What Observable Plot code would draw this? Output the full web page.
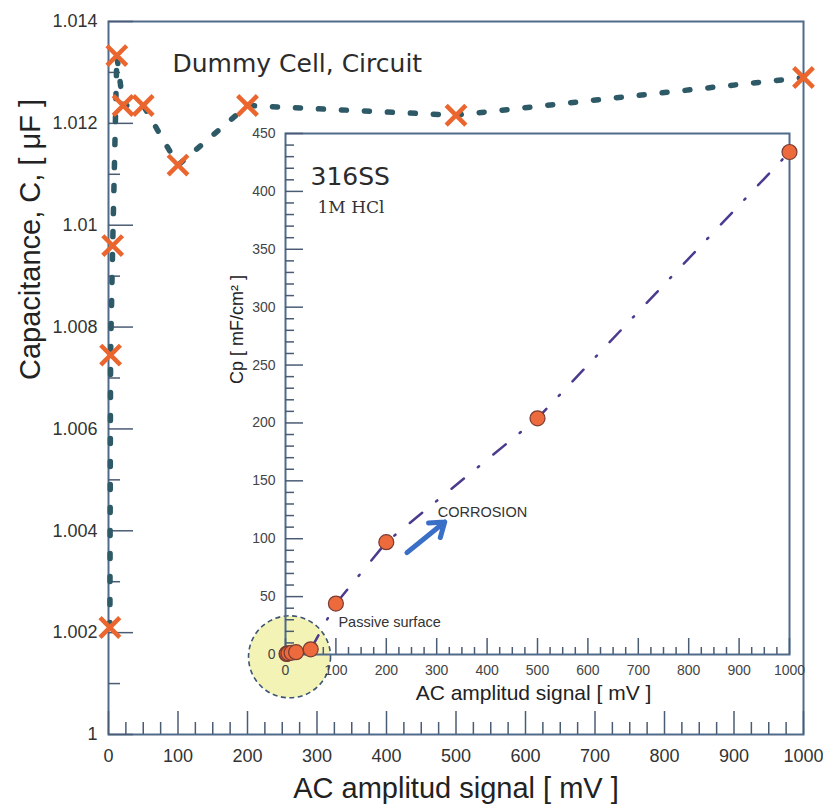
<!DOCTYPE html>
<html>
<head>
<meta charset="utf-8">
<script src="https://cdn.jsdelivr.net/npm/d3@7"></script>
<script src="https://cdn.jsdelivr.net/npm/@observablehq/plot@0.6"></script>
<style>
  html, body { margin: 0; padding: 0; background: #fff; }
  #chart { position: relative; width: 823px; height: 812px; overflow: hidden; }
  #chart svg { position: absolute; overflow: visible; }
</style>
</head>
<body>
<div id="chart"></div>
<script>
// ---- Main chart: dummy cell capacitance vs. AC amplitude ----
const amplitude = [2, 3, 6, 12, 21, 50, 100, 200, 500, 1000];            // mV
const capacitance = [1.0021, 1.00745, 1.0096, 1.01333, 1.01235, 1.01235,
                     1.01118, 1.01235, 1.01216, 1.0129];                  // µF
const xTicks = [0, 100, 200, 300, 400, 500, 600, 700, 800, 900, 1000];
const yTicks = [1, 1.002, 1.004, 1.006, 1.008, 1.01, 1.012, 1.014];
const yTickLabels = ["1", "1.002", "1.004", "1.006", "1.008", "1.01", "1.012", "1.014"];

// ---- Inset: 316SS in 1M HCl, Cp vs. AC amplitude ----
const insetAmplitude = [2, 3, 6, 12, 21, 50, 100, 200, 500, 1000];       // mV
const insetCp = [0.5, 0.8, 1, 1.5, 2, 4.5, 44, 97, 204, 434];             // mF/cm²
const insetXTicks = [0, 100, 200, 300, 400, 500, 600, 700, 800, 900, 1000];
const insetYTicks = [0, 50, 100, 150, 200, 250, 300, 350, 400, 450];

// Annotations (data units of the inset)
const passiveZone = [{x: 8, y: -2}];
const notes = [
  {x: 105, y: 28, label: "Passive surface", size: 14.5},
  {x: 302, y: 122.5, label: "CORROSION", size: 14.5}
];
const trendArrow = [{x1: 241, y1: 88, x2: 316, y2: 114.5}];

const frameColor = "#4f6a8a";
const tickColor = "#4a5c74";
const orange = "#ea662e";
const sans = "'Liberation Sans', Arial, sans-serif";
const plain = d => String(d);

const root = document.getElementById("chart");

// ---------- main plot ----------
const W = 823, H = 812;
const M = {top: 21, right: 20, bottom: 78, left: 108};
const plotW = W - M.left - M.right;
const plotH = H - M.top - M.bottom;

const mainData = amplitude.map((x, i) => ({x, y: capacitance[i]}));
const minorX = d3.range(25, 1000, 25).filter(v => v % 100 !== 0);
const minorY = yTicks.slice(0, -1).map(v => v + 0.001);

const main = Plot.plot({
  width: W, height: H,
  marginTop: M.top, marginRight: M.right, marginBottom: M.bottom, marginLeft: M.left,
  style: {fontFamily: sans, fontSize: "18px", color: "#333", background: "transparent", overflow: "visible"},
  x: {domain: [0, 1000], ticks: xTicks, tickSize: 0, tickPadding: 15, label: null, tickFormat: plain},
  y: {domain: [1, 1.014], ticks: yTicks, tickSize: 0, tickPadding: 11, label: null,
      tickFormat: d => yTickLabels[yTicks.findIndex(t => Math.abs(t - d) < 1e-9)]},
  marks: [
    Plot.frame({stroke: frameColor, strokeWidth: 2}),
    Plot.tickX(xTicks, {x: d => d, insetTop: plotH - 23, stroke: tickColor, strokeWidth: 1.5}),
    Plot.tickX(minorX, {x: d => d, insetTop: plotH - 12, stroke: tickColor, strokeWidth: 1.5}),
    Plot.tickY(yTicks, {y: d => d, insetRight: plotW - 25, stroke: tickColor, strokeWidth: 1.5}),
    Plot.tickY(minorY, {y: d => d, insetRight: plotW - 12, stroke: tickColor, strokeWidth: 1.5}),
    Plot.line(mainData, {x: "x", y: "y", stroke: "#2e5a68", strokeWidth: 5.5,
      strokeDasharray: "5,18", strokeLinecap: "round"}),
    Plot.dot(mainData, {x: "x", y: "y", symbol: "times", r: 9, stroke: orange, strokeWidth: 4.5}),
    Plot.text(["Dummy Cell, Circuit"], {text: d => d, frameAnchor: "top-left", dx: 64, dy: 33,
      textAnchor: "start", fontSize: 25, fontFamily: "'DejaVu Sans', sans-serif", fill: "#2b2b2b"}),
    Plot.text(["Capacitance, C, [ μF ]"], {text: d => d, frameAnchor: "left", rotate: -90,
      dx: -78, dy: 2, fontSize: 29, fill: "#222"}),
    Plot.text(["AC amplitud signal [ mV ]"], {text: d => d, frameAnchor: "bottom",
      dy: 63, fontSize: 29, fill: "#222"})
  ]
});
main.style.left = "0px";
main.style.top = "0px";
root.appendChild(main);

// ---------- inset plot ----------
const IL = 195, IT = 110, IW = 610, IH = 620;
const IM = {top: 23, right: 16, bottom: 76, left: 90};
const iPlotW = IW - IM.left - IM.right;
const iPlotH = IH - IM.top - IM.bottom;

const insetData = insetAmplitude.map((x, i) => ({x, y: insetCp[i]}));
const iMinorX = d3.range(25, 1000, 25).filter(v => v % 100 !== 0);
const iMinorY = d3.range(10, 450, 10).filter(v => v % 50 !== 0);

const inset = Plot.plot({
  width: IW, height: IH,
  marginTop: IM.top, marginRight: IM.right, marginBottom: IM.bottom, marginLeft: IM.left,
  style: {fontFamily: sans, fontSize: "14px", color: "#444", background: "transparent", overflow: "visible"},
  x: {domain: [0, 1000]},
  y: {domain: [0, 450]},
  marks: [
    // highlighted passive region, under the axes
    Plot.dot(passiveZone, {x: "x", y: "y", r: 41, fill: "#f3f3b6", stroke: "#3d5573",
      strokeWidth: 1.6, strokeDasharray: "5,3.5"}),
    Plot.frame({stroke: frameColor, strokeWidth: 2}),
    Plot.axisX(insetXTicks, {tickSize: 0, tickPadding: 11, label: null, tickFormat: plain}),
    Plot.axisY(insetYTicks, {tickSize: 0, tickPadding: 10, label: null, tickFormat: plain}),
    Plot.tickX(insetXTicks, {x: d => d, insetTop: iPlotH - 16, stroke: tickColor, strokeWidth: 1.5}),
    Plot.tickX(iMinorX, {x: d => d, insetTop: iPlotH - 7, stroke: tickColor, strokeWidth: 1.5}),
    Plot.tickY(insetYTicks, {y: d => d, insetRight: iPlotW - 18, stroke: tickColor, strokeWidth: 1.5}),
    Plot.tickY(iMinorY, {y: d => d, insetRight: iPlotW - 9, stroke: tickColor, strokeWidth: 1.5}),
    Plot.line(insetData.filter(d => d.x >= 50), {x: "x", y: "y", stroke: "#4b3a8e",
      strokeWidth: 2.5, strokeDasharray: "16,18,1.5,18.5"}),
    Plot.dot(insetData, {x: "x", y: "y", r: 7.5, fill: "#ec6a3c", stroke: "#7a3b33", strokeWidth: 1.2}),
    Plot.arrow(trendArrow, {x1: "x1", y1: "y1", x2: "x2", y2: "y2", stroke: "#3a6fc8",
      strokeWidth: 5, headLength: 15, headAngle: 70}),
    Plot.text(notes, {x: "x", y: "y", text: "label", fontSize: d => d.size, textAnchor: "start", fill: "#333"}),
    Plot.text(["316SS"], {text: d => d, frameAnchor: "top-left", dx: 25, dy: 34, textAnchor: "start",
      fontSize: 25, fontFamily: "'DejaVu Sans', sans-serif", fill: "#2b2b2b"}),
    Plot.text(["1M HCl"], {text: d => d, frameAnchor: "top-left", dx: 32, dy: 67, textAnchor: "start",
      fontSize: 17, fontFamily: "'DejaVu Serif', 'Liberation Serif', serif", fill: "#333"}),
    Plot.text(["Cp [ mF/cm² ]"], {text: d => d, frameAnchor: "left", rotate: -90,
      dx: -48, dy: -10, fontSize: 18, fill: "#222"}),
    Plot.text(["AC amplitud signal [ mV ]"], {text: d => d, frameAnchor: "bottom",
      dx: -4, dy: 45, fontSize: 21, fill: "#222"})
  ]
});
inset.style.left = IL + "px";
inset.style.top = IT + "px";
root.appendChild(inset);
</script>
</body>
</html>
